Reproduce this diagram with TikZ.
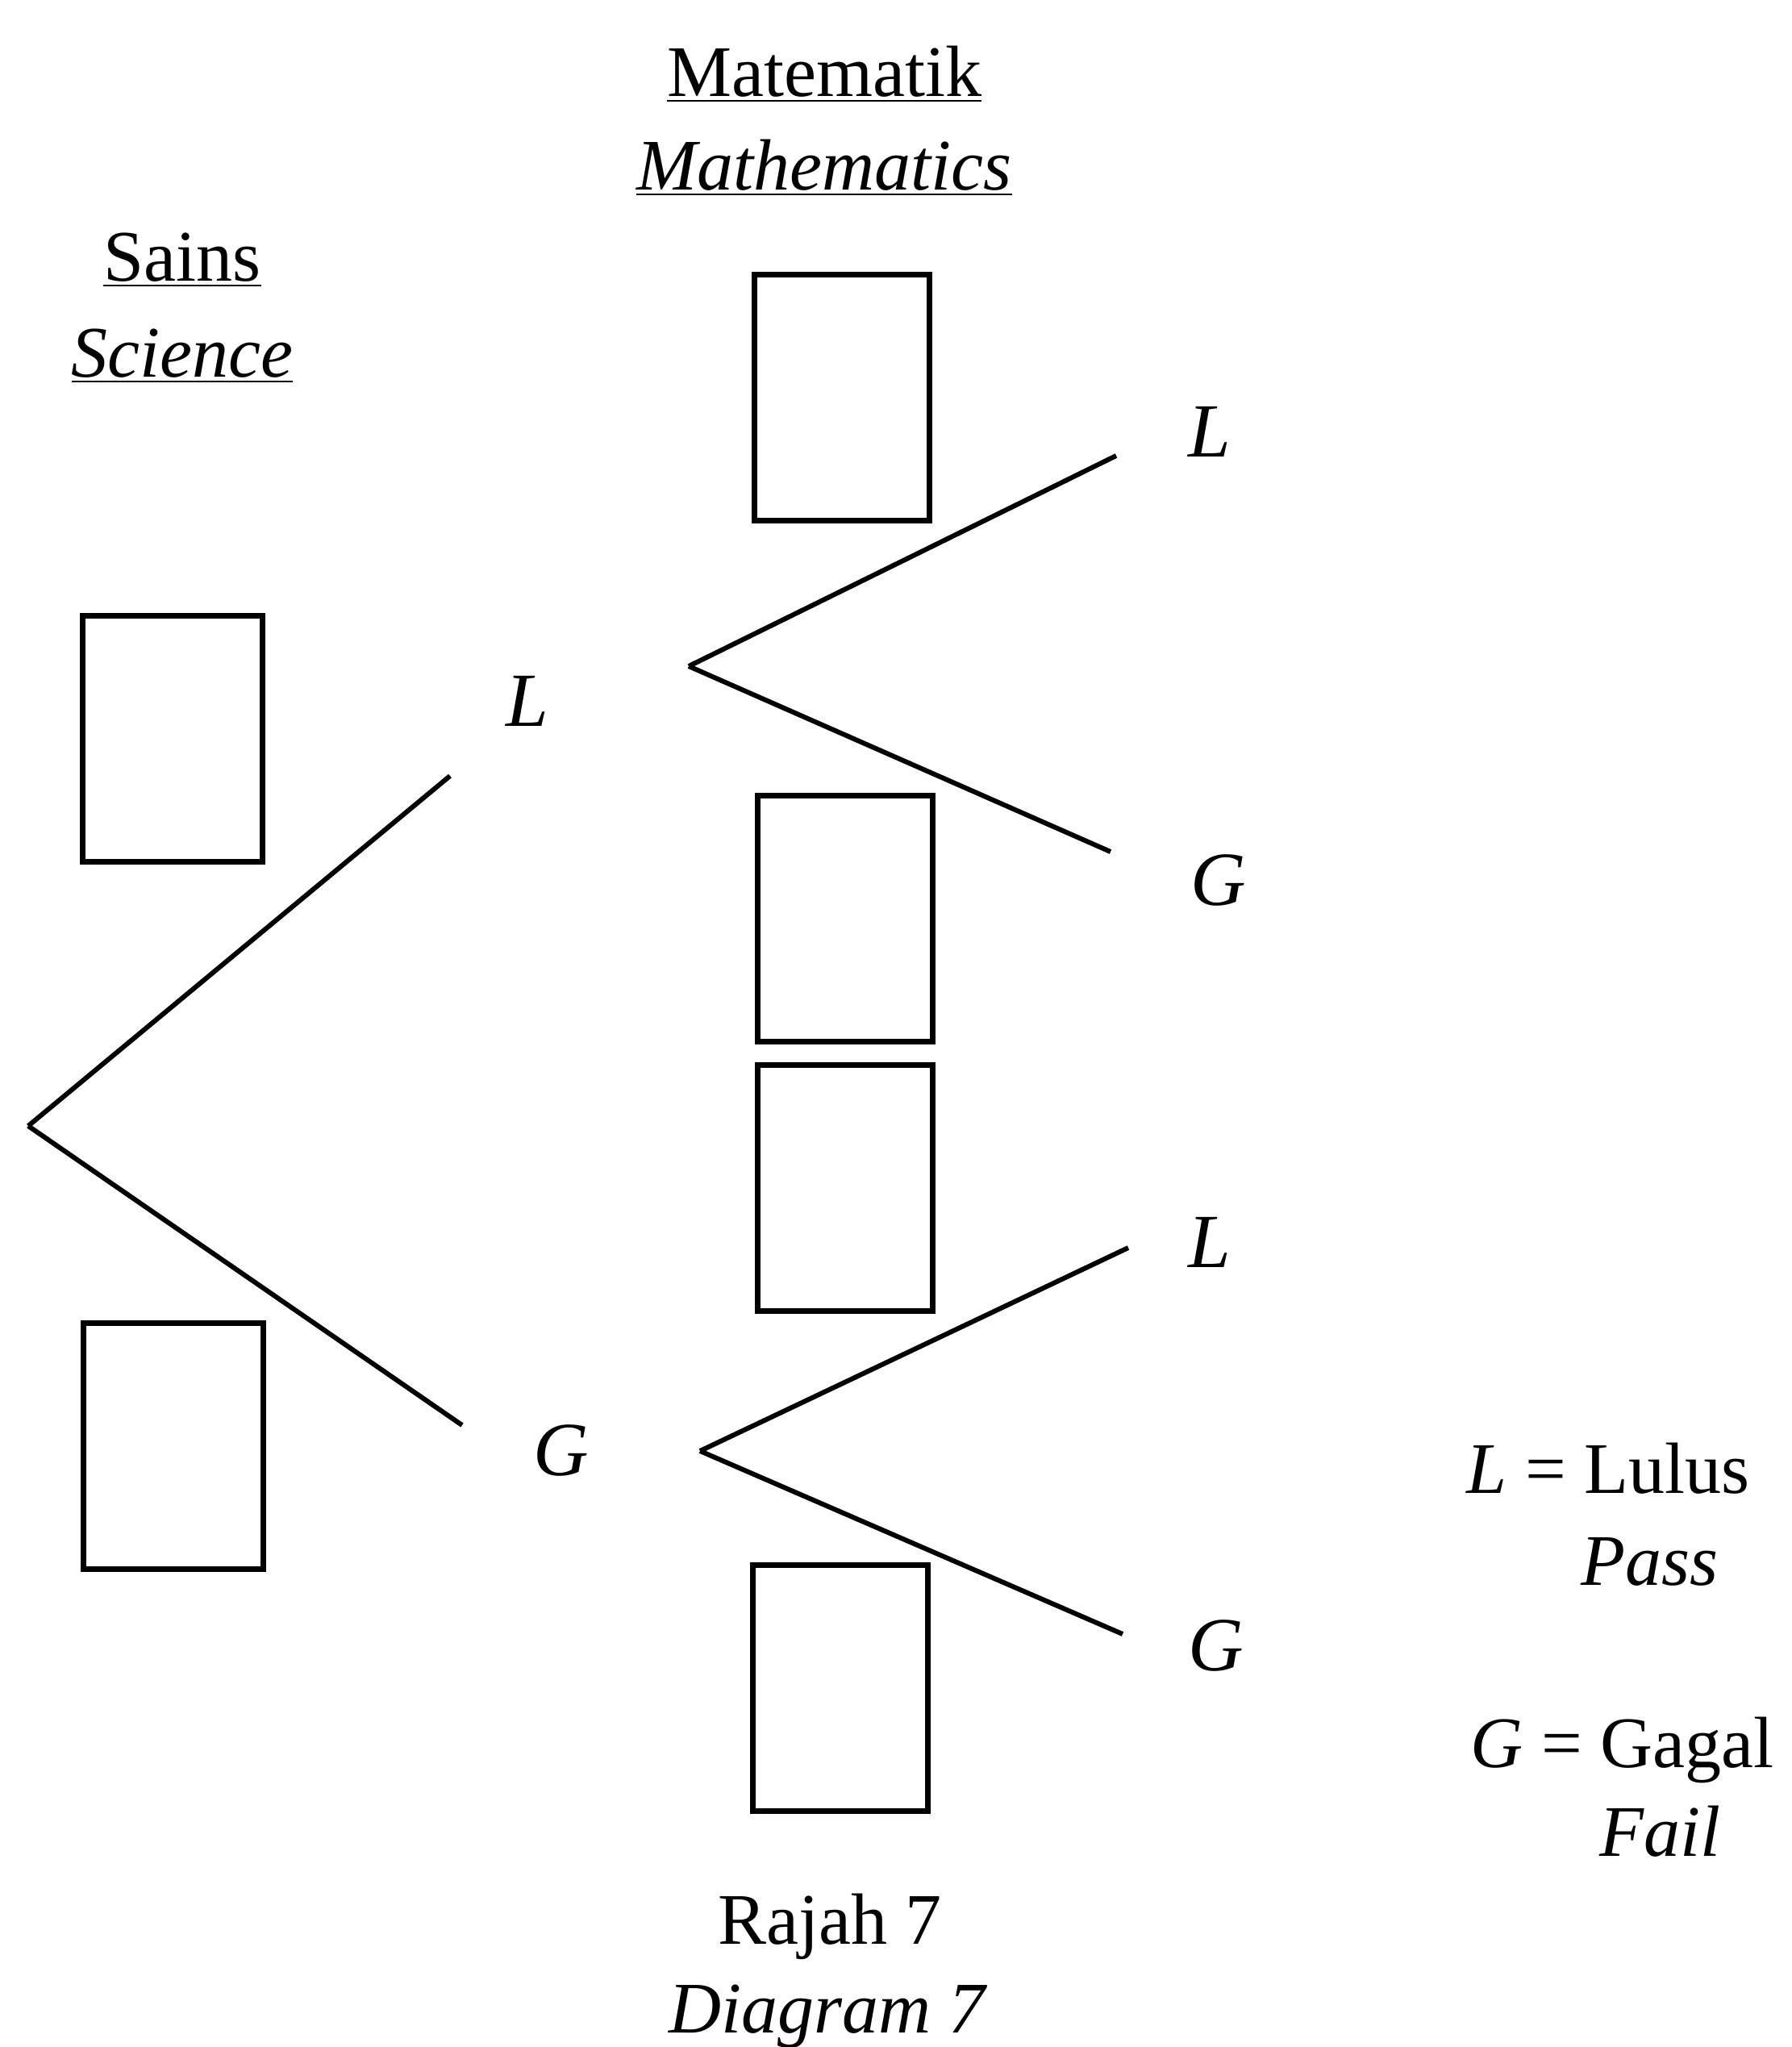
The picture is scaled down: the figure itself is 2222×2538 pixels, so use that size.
\documentclass[tikz,border=0pt]{standalone}
\usepackage{fontspec}
\setmainfont{Liberation Serif}
\usepackage{tikz}
\usetikzlibrary{positioning}

\begin{document}
\begin{tikzpicture}[x=0.01cm,y=-0.01cm,on grid,
    font=\fontsize{25.6}{30}\selectfont,
    ansbox/.style={draw,line width=2pt,inner sep=0pt,minimum width=2.16cm,minimum height=3.04cm},
    branch/.style={line width=1.7pt},
    lbl/.style={inner sep=0pt,font=\fontsize{27}{30}\selectfont\itshape}]
   \fill[white] (0,0) rectangle (2222,2538);
   \useasboundingbox (0,0) rectangle (2222,2538);
   % headings
   \node (mat) [anchor=base] at (1022,119) {\underline{Matematik}};
   \node (math) [below=1.16cm of mat] {\underline{\textit{Mathematics}}};
   \node (sains) [anchor=base] at (226,348) {\underline{Sains}};
   \node (sci) [below=1.19cm of sains] {\underline{\textit{Science}}};
   % boxes
   \node (s1) [ansbox,minimum width=2.23cm] at (214,916) {};
   \node (s2) [ansbox,minimum width=2.23cm] at (215,1793) {};
   \node (m1) [ansbox] at (1044,493) {};
   \node (m2) [ansbox] at (1048,1139) {};
   \node (m3) [ansbox] at (1048,1473) {};
   \node (m4) [ansbox] at (1042,2093) {};
   % labels
   \node (sL) [lbl] at (654,869) {L};
   \node (sG) [lbl] at (696,1798) {G};
   \node (mLL) [lbl] at (1500,535) {L};
   \node (mLG) [lbl] at (1511,1091) {G};
   \node (mGL) [lbl] at (1500,1540) {L};
   \node (mGG) [lbl] at (1508,2040) {G};
   % branch points
   \coordinate (root) at (35,1396);
   \coordinate (tipL) at (558,962);
   \coordinate (tipG) at (573,1767);
   \coordinate (forkL) at (854,826);
   \coordinate (tipLL) at (1384,565);
   \coordinate (tipLG) at (1377,1056);
   \coordinate (forkG) at (868,1799);
   \coordinate (tipGL) at (1399,1547);
   \coordinate (tipGG) at (1392,2026);
    \path[branch]
    (root) edge (tipL)
           edge (tipG)
    (forkL) edge (tipLL)
            edge (tipLG)
    (forkG) edge (tipGL)
            edge (tipGG);
   % key
   \node (keyL) [anchor=base west,inner sep=0pt] at (1818,1851) {\textit{L} = Lulus};
   \node (pass) [anchor=base west,inner sep=0pt] at (1960,1965) {\textit{Pass}};
   \node (keyG) [anchor=base west,inner sep=0pt] at (1823,2191) {\textit{G} = Gagal};
   \node (fail) [anchor=base west,inner sep=0pt] at (1983,2301) {\textit{Fail}};
   % caption
   \node (rajah) [anchor=base] at (1029,2410) {Rajah 7};
   \node (diag) [anchor=base] at (1027,2520) {\textit{Diagram 7}};
\end{tikzpicture}
\end{document}
